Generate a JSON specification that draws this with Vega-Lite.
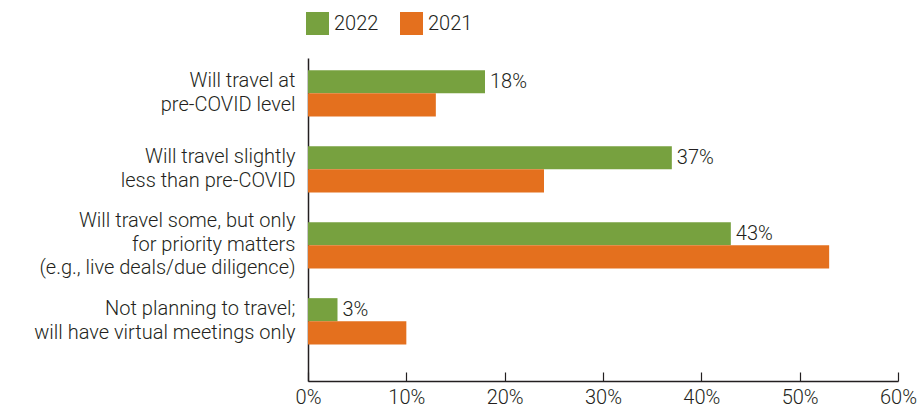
{
  "$schema": "https://vega.github.io/schema/vega-lite/v6.json",
  "width": 590,
  "height": 323,
  "autosize": {"type": "none"},
  "padding": {"left": 308, "top": 58, "right": 25, "bottom": 26},
  "background": "white",
  "config": {
    "view": {"stroke": null},
    "font": "Roboto",
    "text": {"font": "Roboto"}
  },
  "data": {
    "values": [
      {"cat": "Will travel at|pre-COVID level", "year": "2022", "value": 0.18},
      {"cat": "Will travel at|pre-COVID level", "year": "2021", "value": 0.13},
      {"cat": "Will travel slightly|less than pre-COVID", "year": "2022", "value": 0.37},
      {"cat": "Will travel slightly|less than pre-COVID", "year": "2021", "value": 0.24},
      {"cat": "Will travel some, but only|for priority matters|(e.g., live deals/due diligence)", "year": "2022", "value": 0.43},
      {"cat": "Will travel some, but only|for priority matters|(e.g., live deals/due diligence)", "year": "2021", "value": 0.53},
      {"cat": "Not planning to travel;|will have virtual meetings only", "year": "2022", "value": 0.03},
      {"cat": "Not planning to travel;|will have virtual meetings only", "year": "2021", "value": 0.10}
    ]
  },
  "encoding": {
    "y": {
      "field": "cat",
      "type": "nominal",
      "sort": null,
      "title": null,
      "scale": {"paddingInner": 0.39, "paddingOuter": 0.32, "align": 0.25},
      "axis": {
        "labelExpr": "split(datum.label, '|')",
        "labelFont": "Roboto",
        "labelFontWeight": 300,
        "labelFontSize": 20,
        "labelColor": "#231f20",
        "labelLineHeight": 23.5,
        "labelPadding": 13,
        "labelLimit": 400,
        "labelOffset": {"condition": {"test": "indexof(datum.label, 'e.g.') >= 0", "value": -24}, "value": -12},
        "ticks": false,
        "domainColor": "#231f20",
        "domainWidth": 1.5,
        "grid": false
      }
    },
    "yOffset": {"field": "year", "type": "nominal", "sort": ["2022", "2021"]},
    "x": {
      "field": "value",
      "type": "quantitative",
      "title": null,
      "scale": {"domain": [0, 0.6], "nice": false},
      "axis": {
        "format": ".0%",
        "values": [0, 0.1, 0.2, 0.3, 0.4, 0.5, 0.6],
        "labelFont": "Roboto",
        "labelFontWeight": 300,
        "labelFontSize": 20,
        "labelColor": "#231f20",
        "labelFlush": false,
        "labelAlign": "center",
        "labelPadding": 15,
        "tickSize": -9,
        "tickColor": "#231f20",
        "tickWidth": 1.2,
        "domainColor": "#231f20",
        "domainWidth": 1.5,
        "grid": false
      }
    }
  },
  "layer": [
    {
      "mark": {"type": "bar"},
      "encoding": {
        "color": {
          "field": "year",
          "type": "nominal",
          "sort": ["2022", "2021"],
          "scale": {"domain": ["2022", "2021"], "range": ["#77a13f", "#e4701e"]},
          "legend": {
            "title": null,
            "orient": "none",
            "direction": "horizontal",
            "legendX": -2,
            "legendY": -46,
            "symbolType": "square",
            "symbolSize": 529,
            "symbolStrokeWidth": 0,
            "labelFont": "Roboto",
            "labelFontWeight": 300,
            "labelFontSize": 20,
            "labelColor": "#231f20",
            "labelOffset": 5,
            "columnPadding": 21
          }
        }
      }
    },
    {
      "transform": [{"filter": "datum.year == '2022'"}],
      "mark": {"type": "text", "align": "left", "baseline": "middle", "dx": 5, "fontSize": 20, "fontWeight": 300, "font": "Roboto", "color": "#231f20"},
      "encoding": {
        "text": {"field": "value", "type": "quantitative", "format": ".0%"}
      }
    }
  ]
}
